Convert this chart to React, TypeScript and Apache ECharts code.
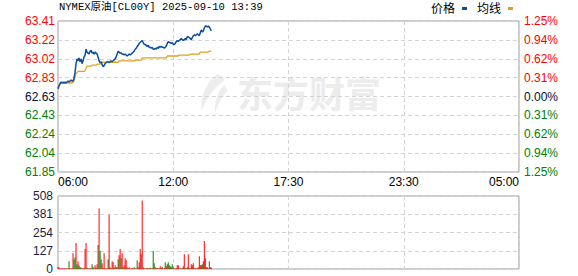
import React, { useEffect, useRef } from "react";
import * as echarts from "echarts";

const titleText = "NYMEX原油[CL00Y] 2025-09-10 13:39";
const legendNames = ["价格", "均线"];
const prevClose = 62.63;
const stepMinutes = 3;
const sessionMinutes = 1380;
const xTickLabels = ["06:00", "12:00", "17:30", "23:30", "05:00"];
const leftTickLabels = ["61.85", "62.04", "62.24", "62.43", "62.63", "62.83", "63.02", "63.22", "63.41"];
const rightTickLabels = ["1.25%", "0.94%", "0.62%", "0.31%", "0.00%", "0.31%", "0.62%", "0.94%", "1.25%"];
const volTickLabels = ["0", "127", "254", "381", "508"];

const priceValues = [
  62.71, 62.74, 62.76, 62.78, 62.77, 62.78, 62.77, 62.78, 62.77, 62.78,
  62.79, 62.78, 62.79, 62.8, 62.79, 62.79, 62.82, 62.88, 62.97, 63.02,
  63.0, 63.03, 62.99, 63.02, 62.97, 63.0, 63.04, 63.06, 63.12, 63.09,
  63.08, 63.07, 63.1, 63.11, 63.08, 63.09, 63.07, 63.09, 63.08, 63.07,
  63.04, 63.0, 62.98, 62.99, 62.96, 62.94, 62.95, 62.97, 62.98, 62.99,
  62.99, 62.98, 62.99, 63.0, 62.99, 63.0, 63.01, 63.02, 63.04, 63.07,
  63.1, 63.09, 63.08, 63.08, 63.07, 63.07, 63.06, 63.07, 63.06, 63.05,
  63.06, 63.07, 63.06, 63.07, 63.08, 63.09, 63.1, 63.12, 63.13, 63.15,
  63.16, 63.18, 63.19, 63.2, 63.21, 63.19, 63.17, 63.17, 63.16, 63.15,
  63.16, 63.14, 63.14, 63.13, 63.14, 63.12, 63.12, 63.13, 63.12, 63.14,
  63.13, 63.15, 63.14, 63.15, 63.14, 63.14, 63.13, 63.14, 63.15, 63.18,
  63.2, 63.19, 63.19, 63.18, 63.19, 63.17, 63.17, 63.18, 63.2, 63.21,
  63.2, 63.21, 63.22, 63.23, 63.22, 63.21, 63.22, 63.23, 63.22, 63.25,
  63.25, 63.24, 63.23, 63.22, 63.24, 63.26, 63.27, 63.26, 63.27, 63.28,
  63.27, 63.26, 63.29, 63.32, 63.3, 63.31, 63.34, 63.36, 63.36, 63.35,
  63.36, 63.35, 63.33, 63.31,
];

const avgValues = [
  62.72, 62.74, 62.76, 62.77, 62.77, 62.77, 62.77, 62.77, 62.77, 62.77,
  62.77, 62.77, 62.77, 62.77, 62.77, 62.78, 62.79, 62.84, 62.87, 62.88,
  62.89, 62.89, 62.89, 62.89, 62.89, 62.89, 62.89, 62.9, 62.92, 62.945,
  62.945, 62.945, 62.945, 62.945, 62.955, 62.955, 62.955, 62.955, 62.955, 62.965,
  62.965, 62.965, 62.965, 62.985, 62.985, 62.985, 62.985, 62.985, 62.985, 62.985,
  62.985, 62.985, 62.985, 62.985, 62.985, 62.985, 62.985, 62.985, 62.985, 62.985,
  62.985, 63.0, 63.0, 63.0, 63.0, 63.0, 63.0, 63.0, 63.0, 63.0,
  63.0, 63.0, 63.0, 63.0, 63.0, 63.0, 63.0, 63.007, 63.007, 63.007,
  63.007, 63.007, 63.007, 63.007, 63.03, 63.03, 63.03, 63.03, 63.03, 63.03,
  63.03, 63.03, 63.03, 63.03, 63.03, 63.03, 63.03, 63.03, 63.03, 63.03,
  63.03, 63.03, 63.03, 63.03, 63.03, 63.03, 63.03, 63.03, 63.03, 63.05,
  63.05, 63.05, 63.05, 63.05, 63.05, 63.05, 63.05, 63.05, 63.05, 63.05,
  63.05, 63.06, 63.06, 63.06, 63.06, 63.06, 63.06, 63.06, 63.06, 63.06,
  63.06, 63.06, 63.07, 63.07, 63.07, 63.07, 63.07, 63.07, 63.07, 63.07,
  63.07, 63.07, 63.09, 63.09, 63.09, 63.09, 63.09, 63.09, 63.09, 63.09,
  63.09, 63.1, 63.1, 63.1,
];

const volumeValues = [
  12, 12, 5, 4, 5, 3, 4, 5, 4, 3,
  5, 54, 4, 4, 5, 110, 68, 82, 181, 33,
  54, 26, 14, 9, 4, 4, 5, 139, 181, 9,
  4, 4, 5, 4, 33, 14, 4, 26, 9, 33,
  167, 421, 125, 68, 40, 5, 110, 4, 4, 5,
  68, 378, 12, 4, 54, 47, 9, 26, 12, 12,
  68, 96, 139, 75, 110, 12, 26, 75, 61, 12,
  4, 12, 4, 4, 5, 4, 12, 4, 4, 61,
  12, 47, 139, 103, 477, 12, 4, 5, 4, 9,
  4, 5, 9, 4, 5, 125, 40, 12, 5, 9,
  4, 5, 19, 9, 14, 4, 5, 47, 19, 33,
  47, 26, 19, 12, 33, 12, 4, 4, 5, 26,
  26, 4, 5, 4, 5, 19, 103, 5, 5, 12,
  103, 5, 4, 33, 26, 40, 4, 5, 4, 5,
  12, 89, 26, 26, 33, 54, 195, 75, 12, 12,
  4, 54, 12, 9,
];

const volumeUp = [
  1, 1, 1, 1, 1, 1, 1, 1, 1, 1,
  1, 0, 1, 1, 1, 1, 0, 0, 1, 0,
  1, 0, 0, 0, 1, 1, 1, 1, 1, 0,
  1, 1, 1, 1, 0, 0, 1, 1, 0, 1,
  0, 1, 0, 0, 1, 1, 1, 1, 1, 1,
  0, 1, 1, 1, 1, 1, 0, 1, 0, 1,
  0, 1, 1, 0, 1, 0, 1, 1, 1, 0,
  1, 1, 1, 1, 1, 1, 0, 1, 1, 0,
  1, 1, 1, 1, 1, 1, 1, 0, 1, 0,
  1, 1, 0, 1, 1, 0, 0, 1, 1, 0,
  1, 1, 1, 0, 1, 1, 1, 0, 1, 0,
  0, 1, 0, 1, 0, 1, 1, 1, 1, 1,
  1, 1, 0, 1, 1, 1, 1, 0, 0, 0,
  1, 1, 1, 1, 1, 1, 1, 1, 0, 1,
  1, 1, 1, 0, 0, 1, 1, 1, 1, 0,
  1, 0, 1, 0,
];

const PCT_MAX = 1.25;
const PCT_STEP = 0.3125;
const toPct = (p: number) => (p / prevClose - 1) * 100;

const RED = "#ff0000";
const GREEN = "#008000";
const MID = "#0a0a30";
const BLUE = "#0c4ea2";
const ORANGE = "#e0a21e";

const labelFont = "'Liberation Sans', Arial, sans-serif";

function sideColor(v: number) {
  const idx = Math.round((v + PCT_MAX) / PCT_STEP);
  if (idx < 4) return GREEN;
  if (idx > 4) return RED;
  return MID;
}

const logoPath =
  "M22 0 C10 8 2 22 4 40 C8 28 15 16 30 6 Z M29 11 C22 19 18 29 19 40 C23 31 27 23 33 17 Z";

export default function App() {
  const ref = useRef<HTMLDivElement>(null);
  useEffect(() => {
    if (!ref.current) return;
    try {
      echarts.graphic.registerShape("logo", echarts.graphic.extendPath(logoPath, {}) as any);
    } catch (e) {}
    const chart = echarts.init(ref.current, undefined, { renderer: "svg" });
    const priceData = priceValues.map((v, i) => [i * stepMinutes, toPct(v)]);
    const avgData = avgValues.map((v, i) => [i * stepMinutes, toPct(v)]);
    const volData = volumeValues.map((v, i) => [i * stepMinutes, v]);
    const splitLine = { show: true, lineStyle: { color: "#d4d4d4", type: [4, 3] as any, width: 1 } };
    const option: any = {
      animation: false,
      backgroundColor: "#ffffff",
      grid: [
        { left: 58, top: 21, width: 461, height: 151, show: true, borderColor: "#999", borderWidth: 1 },
        { left: 58, top: 196, width: 461, height: 73, show: true, borderColor: "#999", borderWidth: 1 },
      ],
      xAxis: [
        {
          type: "value", gridIndex: 0, min: 0, max: sessionMinutes, interval: sessionMinutes / 4,
          axisLine: { show: false }, axisTick: { show: false }, splitLine,
          axisLabel: {
            margin: 4, color: "#000", fontSize: 12, fontFamily: labelFont,
            alignMinLabel: "left", alignMaxLabel: "right",
            formatter: (v: number) => xTickLabels[Math.round(v / (sessionMinutes / 4))] ?? "",
          },
        },
        {
          type: "value", gridIndex: 1, min: 0, max: sessionMinutes, interval: sessionMinutes / 4,
          axisLine: { show: false }, axisTick: { show: false }, splitLine, axisLabel: { show: false },
        },
      ],
      yAxis: [
        {
          type: "value", gridIndex: 0, position: "left", min: -PCT_MAX, max: PCT_MAX, interval: PCT_STEP,
          axisLine: { show: false }, axisTick: { show: false }, splitLine,
          axisLabel: {
            margin: 3, fontSize: 12, fontFamily: labelFont,
            color: (v: number) => sideColor(Number(v)),
            formatter: (v: number) => leftTickLabels[Math.round((v + PCT_MAX) / PCT_STEP)] ?? "",
          },
        },
        {
          type: "value", gridIndex: 0, position: "right", min: -PCT_MAX, max: PCT_MAX, interval: PCT_STEP,
          axisLine: { show: false }, axisTick: { show: false }, splitLine: { show: false },
          axisLabel: {
            margin: 5, fontSize: 12, fontFamily: labelFont,
            color: (v: number) => sideColor(Number(v)),
            formatter: (v: number) => rightTickLabels[Math.round((v + PCT_MAX) / PCT_STEP)] ?? "",
          },
        },
        {
          type: "value", gridIndex: 1, min: 0, max: 508, interval: 127,
          axisLine: { show: false }, axisTick: { show: false }, splitLine,
          axisLabel: {
            margin: 5, fontSize: 12, fontFamily: labelFont, color: "#1c1c3c",
            formatter: (v: number) => volTickLabels[Math.round(v / 127)] ?? "",
          },
        },
      ],
      graphic: [
        { type: "logo", x: 198, y: 74, scaleX: 0.9, scaleY: 0.95, z: -1, silent: true, style: { fill: "#ededed" } },
        {
          type: "text", x: 237, y: 74, z: -1, silent: true,
          style: { text: "东方财富", fill: "#ececec", font: "bold 36px 'Noto Sans CJK SC'" },
        },
        {
          type: "text", x: 59, y: 2,
          style: { text: titleText, fill: "#000", font: "10.5px 'Liberation Mono', 'Noto Sans CJK SC', monospace" },
        },
        {
          type: "text", x: 431, y: 1,
          style: { text: legendNames[0], fill: "#000", font: "12px 'Noto Sans CJK SC'" },
        },
        { type: "rect", shape: { x: 462, y: 7, width: 5, height: 3 }, style: { fill: BLUE } },
        {
          type: "text", x: 477, y: 1,
          style: { text: legendNames[1], fill: "#000", font: "12px 'Noto Sans CJK SC'" },
        },
        { type: "rect", shape: { x: 508, y: 7, width: 5, height: 3 }, style: { fill: ORANGE } },
      ],
      series: [
        {
          name: legendNames[1], type: "line", xAxisIndex: 0, yAxisIndex: 0, data: avgData,
          showSymbol: false, lineStyle: { color: ORANGE, width: 1.3 }, z: 3,
        },
        {
          name: legendNames[0], type: "line", xAxisIndex: 0, yAxisIndex: 0, data: priceData,
          showSymbol: false, lineStyle: { color: BLUE, width: 1.5 }, z: 4,
        },
        {
          name: "成交量", type: "bar", xAxisIndex: 1, yAxisIndex: 2, data: volData, barWidth: 1,
          itemStyle: { color: (p: any) => (volumeUp[p.dataIndex] ? RED : GREEN) },
        },
      ],
    };
    chart.setOption(option);
    return () => chart.dispose();
  }, []);
  return <div ref={ref} style={{ width: 578, height: 276, position: "absolute", left: 0, top: 0 }} />;
}
